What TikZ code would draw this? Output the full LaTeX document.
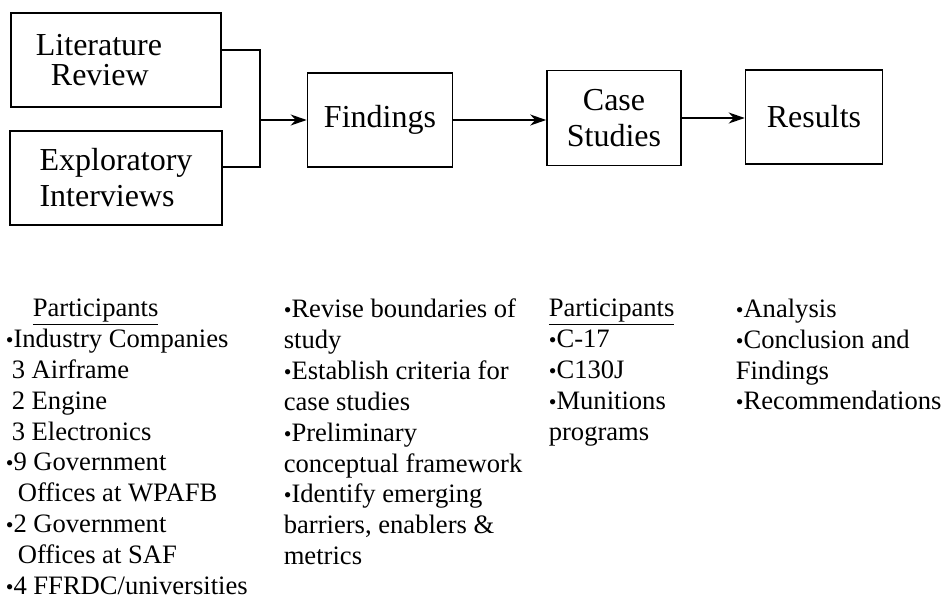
\documentclass[tikz,border=0pt]{standalone}
\usepackage{fontspec}
\setmainfont{Liberation Serif}
\usepackage{tikz}
\usetikzlibrary{arrows.meta}
\newcommand{\bu}{{\fontsize{11}{11}\selectfont\textbullet}}
\begin{document}
\begin{tikzpicture}[->,>={Stealth[length=8pt,width=5.5pt,inset=2.5pt]}
  ,x=0.5pt,y=-0.5pt
  ,line width=0.8pt]
  \tikzstyle{box}=[draw,rectangle,inner sep=0pt
  ,font=\fontsize{16}{18}\selectfont]
  \tikzstyle{list}=[anchor=north west,inner sep=0pt,align=left
  ,font=\fontsize{13.3}{15.45}\selectfont]

  \useasboundingbox (0,0) rectangle (947,599);

  % boxes top row
  \node[box,minimum width=105pt,minimum height=47pt,align=left
  ,font=\fontsize{16}{15}\selectfont] (lit) at (116,60)
  {Literature\hspace*{17pt}\\\hspace*{7.5pt}Review};
  \node[box,minimum width=106pt,minimum height=47pt,align=left] (expl) at (116,178) {Exploratory\\Interviews};
  \node[box,minimum width=72.5pt,minimum height=47pt] (find) at (380,120) {Findings};
  \node[box,minimum width=67pt,minimum height=47.5pt,align=center] (case) at (614,118) {Case\\Studies};
  \node[box,minimum width=68.5pt,minimum height=47pt] (res) at (814,117) {Results};
  \coordinate (jn) at (260,120);

  \draw[-] ([yshift=5pt]lit.east) -| (jn);
  \draw[-] ([yshift=5.5pt]expl.east) -| (jn);
  \draw (jn) -- (find.west |- jn);
  \draw (find.east) -- (find.east -| case.west);
  \draw (case.east) -- (case.east -| res.west);

  % lists below
  \node[list] (part1) at (5,298) {%
    \hspace*{13.5pt}\underline{Participants}\\
    \bu Industry Companies\\
    \hspace*{3pt}3 Airframe\\
    \hspace*{3pt}2 Engine\\
    \hspace*{3pt}3 Electronics\\
    \bu 9 Government\\
    \hspace*{6pt}Offices at WPAFB\\
    \bu 2 Government\\
    \hspace*{6pt}Offices at SAF\\
    \bu 4 FFRDC/universities};
  \node[list] (tasks) at (283,298) {%
    \bu Revise boundaries of\\
    study\\
    \bu Establish criteria for\\
    case studies\\
    \bu Preliminary\\
    conceptual framework\\
    \bu Identify emerging\\
    barriers, enablers \&\\
    metrics};
  \node[list] (part2) at (548,298) {%
    \underline{Participants}\\
    \bu C-17\\
    \bu C130J\\
    \bu Munitions\\
    programs};
  \node[list] (outc) at (735,298) {%
    \bu Analysis\\
    \bu Conclusion and\\
    Findings\\
    \bu Recommendations};

\end{tikzpicture}
\end{document}
